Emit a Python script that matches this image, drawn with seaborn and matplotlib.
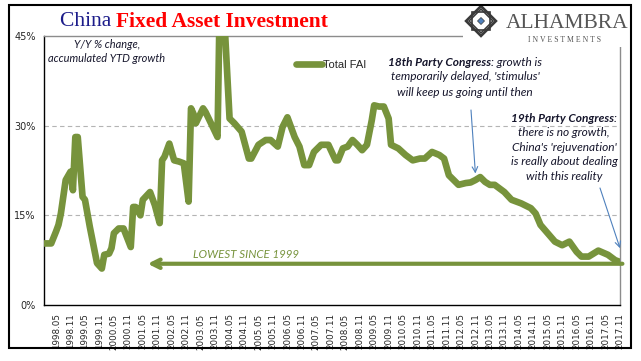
import pandas as pd
import seaborn as sns
import matplotlib.pyplot as plt
from matplotlib.patches import Rectangle, Polygon

# China FAI, Y/Y % change, accumulated YTD growth
dates = ['1997.12', '1998.03', '1998.05', '1998.06', '1998.07', '1998.09', '1998.11', '1998.12',
         '1999.01', '1999.02', '1999.04', '1999.05', '1999.07', '1999.10', '1999.12',
         '2000.01', '2000.03', '2000.04', '2000.05', '2000.07', '2000.09', '2000.12',
         '2001.01', '2001.02', '2001.04', '2001.05', '2001.08', '2001.10', '2001.12',
         '2002.01', '2002.02', '2002.04', '2002.06', '2002.08', '2002.10', '2002.12',
         '2003.01', '2003.02', '2003.03', '2003.06', '2003.07', '2003.10', '2003.12',
         '2004.01', '2004.02', '2004.03', '2004.05', '2004.07', '2004.10',
         '2005.01', '2005.02', '2005.05', '2005.08', '2005.10',
         '2006.01', '2006.03', '2006.05', '2006.08', '2006.10', '2006.12',
         '2007.02', '2007.04', '2007.07', '2007.10',
         '2008.01', '2008.02', '2008.04', '2008.06', '2008.08', '2008.10', '2008.12',
         '2009.02', '2009.04', '2009.05', '2009.07', '2009.09', '2009.11', '2009.12',
         '2010.03', '2010.06', '2010.09', '2010.12',
         '2011.02', '2011.05', '2011.08', '2011.10', '2011.12',
         '2012.04', '2012.07', '2012.09', '2012.11',
         '2013.01', '2013.03', '2013.05', '2013.07', '2013.11',
         '2014.02', '2014.06', '2014.10', '2014.12',
         '2015.02', '2015.05', '2015.08', '2015.11',
         '2016.02', '2016.05', '2016.07', '2016.10',
         '2017.02', '2017.06', '2017.09', '2017.11']
fai = [10.3, 10.3, 12.3, 13.4, 15.3, 20.9, 22.3, 19.2,
       28.1, 28.1, 18.1, 17.6, 13.1, 7.0, 6.1,
       8.4, 8.6, 9.5, 12.0, 12.8, 12.8, 9.7,
       16.4, 16.4, 15.0, 17.6, 18.9, 16.7, 13.7,
       24.2, 24.8, 27.0, 24.2, 24.0, 23.7, 17.3,
       32.9, 32.0, 30.4, 32.9, 32.3, 29.8, 28.1,
       53.0, 48.0, 46.5, 31.2, 30.4, 29.0,
       24.5, 24.5, 26.8, 27.6, 27.6,
       26.5, 29.8, 31.4, 28.1, 26.5, 23.4,
       23.4, 25.6, 26.8, 26.8,
       24.2, 24.2, 26.2, 26.5, 27.6, 26.8, 25.9,
       26.8, 30.9, 33.4, 33.2, 33.2, 31.2, 26.8,
       26.2, 25.1, 24.2, 24.5,
       24.5, 25.6, 25.1, 24.5, 21.7,
       20.1, 20.4, 20.5, 20.9,
       21.4, 20.6, 20.1, 20.1, 18.9,
       17.6, 17.0, 16.2, 15.3,
       13.4, 12.0, 10.6, 10.0,
       10.6, 8.9, 8.1, 8.1,
       9.1, 8.4, 7.5, 7.2]

tick_labels = ['1998.05', '1998.11', '1999.05', '1999.11', '2000.05', '2000.11', '2001.05', '2001.11',
               '2002.05', '2002.11', '2003.05', '2003.11', '2004.05', '2004.11', '2005.05', '2005.11',
               '2006.05', '2006.11', '2007.05', '2007.11', '2008.05', '2008.11', '2009.05', '2009.11',
               '2010.05', '2010.11', '2011.05', '2011.11', '2012.05', '2012.11', '2013.05', '2013.11',
               '2014.05', '2014.11', '2015.05', '2015.11', '2016.05', '2016.11', '2017.05', '2017.11']
y_ticks = [0, 15, 30, 45]

lowest_level = 6.9
lowest_from = '2001.07'
congress_18 = ('2012.11', 22.0)
congress_19 = ('2017.11', 9.5)

GREEN = '#77933c'
NOTE = '#16162c'
W, H = 641, 361


def month_index(s):
    y, m = s.split('.')
    return (int(y) - 1998) * 12 + int(m) - 5


def fx(px):
    return px / W


def fy(py):
    return 1 - py / H


sns.set_style('white')
plt.rcParams['font.family'] = ['DejaVu Sans']

fig = plt.figure(figsize=(W / 100, H / 100), dpi=100)
ax = fig.add_axes([fx(44), fy(305), (620 - 44) / W, (305 - 36) / H])

df = pd.DataFrame({'month': [month_index(d) for d in dates], 'fai': fai})
sns.lineplot(data=df, x='month', y='fai', ax=ax, color=GREEN, linewidth=4.8,
             label='Total FAI', solid_joinstyle='round', solid_capstyle='round', zorder=3)

ax.set_xlim(-5, 234)
ax.set_ylim(0, 45)
ax.set_xticks([month_index(t) for t in tick_labels])
ax.set_xticklabels(tick_labels, rotation=90, fontsize=6.3)
ax.set_yticks(y_ticks)
ax.set_yticklabels([f'{v}%' for v in y_ticks], fontsize=7)
ax.tick_params(direction='out', length=4, width=0.8, color='black', pad=2)
ax.set_xlabel('')
ax.set_ylabel('')
for v in y_ticks[1:-1]:
    ax.axhline(v, color='#b4b4b4', lw=0.8, ls=(0, (4, 3)), zorder=1)
for side in ['left', 'bottom']:
    ax.spines[side].set_color('black')
    ax.spines[side].set_linewidth(1)
for side in ['top', 'right']:
    ax.spines[side].set_color('#8c8c8c')
    ax.spines[side].set_linewidth(1)

ax.legend(loc='upper left', bbox_to_anchor=(fx(296), fy(60)), bbox_transform=fig.transFigure,
          frameon=False, handlelength=2.3, handletextpad=0.1,
          borderpad=0, borderaxespad=0, prop={'family': 'Liberation Sans', 'size': 8})

# lowest since 1999 arrow
ax.annotate('', xy=(month_index(lowest_from), lowest_level),
            xytext=(month_index(dates[-1]) + 1, lowest_level),
            arrowprops=dict(arrowstyle='->', color=GREEN, lw=3, mutation_scale=15,
                            shrinkA=0, shrinkB=0), zorder=4)
fig.text(fx(246), fy(254), 'LOWEST SINCE 1999', color=GREEN, fontsize=8.3, style='italic',
         family='Lato', ha='center', va='center')

renderer = fig.canvas.get_renderer()


def draw_segments(x_px, y_px, segments, size, family, style='italic'):
    texts = []
    for s, props in segments:
        t = fig.text(0, fy(y_px), s, fontsize=size, family=family, style=style,
                     ha='left', va='center', **props)
        texts.append(t)
    widths = [t.get_window_extent(renderer).width for t in texts]
    x = x_px - sum(widths) / 2
    for t, wd in zip(texts, widths):
        t.set_x(fx(x))
        x += wd


# title
draw_segments(194, 22, [('China ', {'color': '#1c1c8a'}),
                        ('Fixed Asset Investment', {'color': '#ff0000', 'fontweight': 'bold'})],
              15.5, 'Liberation Serif', style='normal')

# notes
NOTE_SIZE = 8.6
draw_segments(107, 45, [('Y/Y % change,', {'color': NOTE})], 7.9, 'Lato')
draw_segments(107, 58, [('accumulated YTD growth', {'color': NOTE})], 7.9, 'Lato')

draw_segments(465, 63, [('18th Party Congress', {'color': NOTE, 'fontweight': 'bold'}),
                        (': growth is', {'color': NOTE})], NOTE_SIZE, 'Lato')
draw_segments(465, 77, [("temporarily delayed, 'stimulus'", {'color': NOTE})], NOTE_SIZE, 'Lato')
draw_segments(465, 92, [('will keep us going until then', {'color': NOTE})], NOTE_SIZE, 'Lato')

notes_19 = ["there is no growth,", "China's 'rejuvenation'", "is really about dealing",
            "with this reality"]
draw_segments(564, 118, [('19th Party Congress', {'color': NOTE, 'fontweight': 'bold'}),
                         (':', {'color': NOTE})], NOTE_SIZE, 'Lato')
for i, line in enumerate(notes_19):
    draw_segments(564, 133 + i * 14.5, [(line, {'color': NOTE})], NOTE_SIZE, 'Lato')

arrow_kw = dict(arrowstyle='->', color='#4f81bd', lw=0.8, shrinkA=0, shrinkB=0)
ax.annotate('', xy=(month_index(congress_18[0]), congress_18[1]), xytext=(fx(471), fy(110)),
            textcoords='figure fraction', arrowprops=arrow_kw, annotation_clip=False)
ax.annotate('', xy=(month_index(congress_19[0]), congress_19[1]), xytext=(fx(600), fy(188)),
            textcoords='figure fraction', arrowprops=arrow_kw, annotation_clip=False)

# logo block
fig.patches.append(Rectangle((fx(463), fy(47)), fx(629) - fx(463), fy(6) - fy(47),
                             transform=fig.transFigure, facecolor='white', edgecolor='none',
                             zorder=5))
cx, cy, r = 481, 21, 15
outer = [(cx, cy - r), (cx + r, cy), (cx, cy + r), (cx - r, cy)]
square = [(cx - 9, cy - 9), (cx + 9, cy - 9), (cx + 9, cy + 9), (cx - 9, cy + 9)]
inner = [(cx, cy - 12), (cx + 12, cy), (cx, cy + 12), (cx - 12, cy)]
core = [(cx, cy - 3.5), (cx + 3.5, cy), (cx, cy + 3.5), (cx - 3.5, cy)]
for pts, fc, lw in [(outer, 'none', 1.8), (square, 'none', 1.2), (inner, 'none', 1.2),
                    (core, '#4f81bd', 0.5)]:
    fig.patches.append(Polygon([(fx(a), fy(b)) for a, b in pts], closed=True,
                               transform=fig.transFigure, facecolor=fc,
                               edgecolor='#3a3a3a', lw=lw, zorder=6))
fig.text(fx(567), fy(23), 'ALHAMBRA', family='Liberation Serif', fontsize=15.5, color='#555555',
         ha='center', va='center', zorder=7)
fig.text(fx(565), fy(40), 'I N V E S T M E N T S', family='Liberation Serif', fontsize=5.6,
         color='#555555', ha='center', va='center', zorder=7)

# outer frame
fig.patches.append(Rectangle((fx(9), fy(348)), fx(631) - fx(9), fy(5) - fy(348),
                             transform=fig.transFigure, facecolor='none', edgecolor='black',
                             lw=1.5, zorder=8))

fig.savefig('out.png', dpi=100)
